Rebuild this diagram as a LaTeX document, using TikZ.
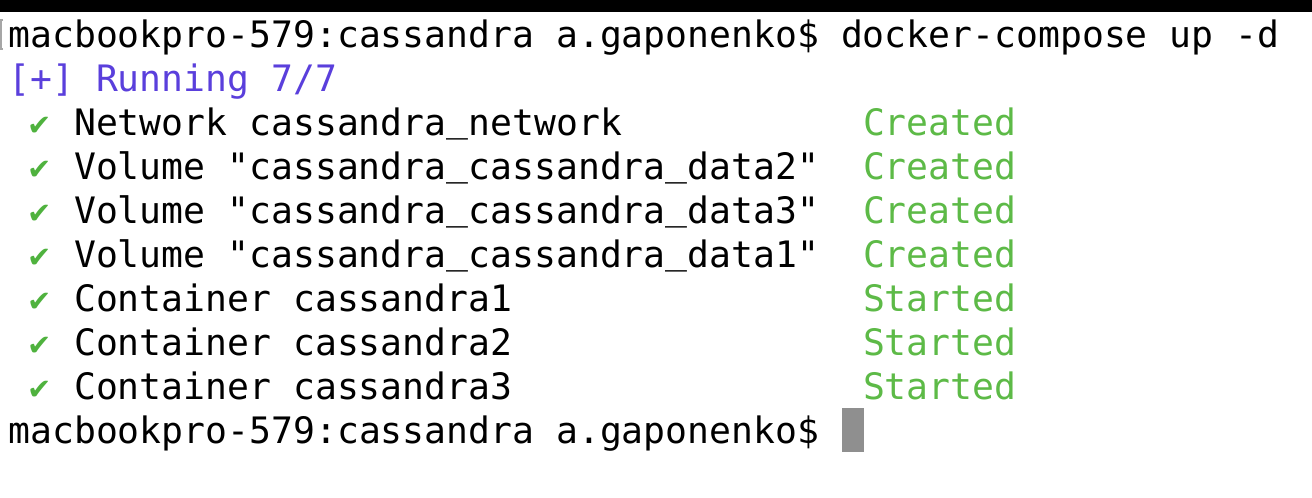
\documentclass[tikz,border=0pt]{standalone}
\usepackage{fontspec}
\usepackage{xcolor}
\setmonofont{DejaVu Sans Mono}
\newfontfamily\tickfont{DejaVu Sans}
\definecolor{runblue}{HTML}{5A3FDC}
\definecolor{okgreen}{HTML}{5DBA47}
\definecolor{tickgreen}{HTML}{4FB23E}
\definecolor{cursorgray}{HTML}{8F8F8F}
\newcommand{\termfont}{\ttfamily\fontsize{18.2}{22}\selectfont}
\newcommand{\us}{\raisebox{1.6pt}{\_}}
\tikzset{
    term-line/.style = {anchor=base west, inner sep=0pt, font=\termfont},
    term-run/.style = {term-line, text=runblue},
    term-state/.style = {term-line, text=okgreen},
    term-tick/.style = {anchor=base west, inner sep=0pt, text=tickgreen, font=\tickfont\fontsize{14.5}{16}\selectfont},
    term-cursor/.style = {fill=cursorgray, inner sep=0pt, minimum width=11pt, minimum height=22pt},
}

\begin{document}
\begin{tikzpicture}[x=0.5pt, y=-0.5pt]
\useasboundingbox[fill=white] (0,0) rectangle (1312,498);
\fill[black] (0,0) rectangle (1312,12);
\draw[black!35, line width=0.6pt] (3,20) -- (1,20) -- (1,49) -- (3,49);
\node[term-line] (cmd) at (8,47) {macbookpro-579:cassandra a.gaponenko\$ docker-compose up -d};
\node[term-run] (run) at (8,91) {[+] Running 7/7};
\foreach \i/\entry/\status in {
    0/{Network cassandra\us network}/Created,
    1/{Volume "cassandra\us cassandra\us data2"}/Created,
    2/{Volume "cassandra\us cassandra\us data3"}/Created,
    3/{Volume "cassandra\us cassandra\us data1"}/Created,
    4/{Container cassandra1}/Started,
    5/{Container cassandra2}/Started,
    6/{Container cassandra3}/Started}{
    \node[term-tick] (tick\i) at (27,135+44*\i) {✔};
    \node[term-line] (entry\i) at (73.7,135+44*\i) {\entry};
    \node[term-state] (state\i) at (862.6,135+44*\i) {\status};
}
\node[term-line] (prompt) at (8,443) {macbookpro-579:cassandra a.gaponenko\$};
\node[term-cursor, anchor=north west] (cursor) at (842,408) {};
\end{tikzpicture}
\end{document}
